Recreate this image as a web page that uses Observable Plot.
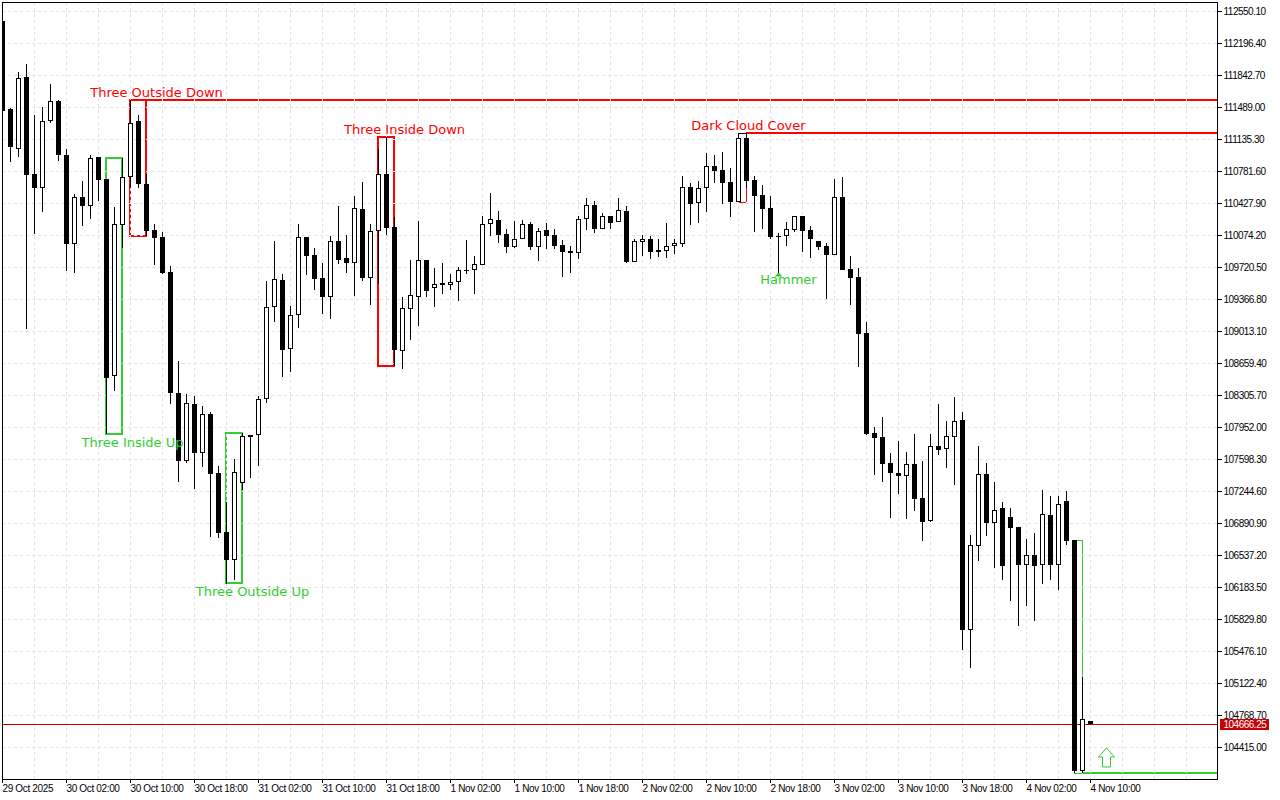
<!DOCTYPE html>
<html>
<head>
<meta charset="utf-8">
<script src="https://cdn.jsdelivr.net/npm/d3@7"></script>
<script src="https://cdn.jsdelivr.net/npm/@observablehq/plot@0.6"></script>
<style>
html,body{margin:0;padding:0;background:#fff}
svg{display:block}
g[aria-label="y-axis tick label"]{letter-spacing:-0.5px}
g[aria-label="x-axis tick label"]{letter-spacing:-0.35px}
</style>
</head>
<body>
<div id="chart"></div>
<script>
const opens=[112439,111467,111024,111821,110749,110594,111334,111556,110958,109975,110495,110395,110936,110694,108515,110185,110716,111334,110638,110130,110052,109666,108327,107576,108207,107665,108096,107443,106792,106482,107333,107864,107864,108262,109279,109577,108814,109190,110052,109853,109599,109389,110008,109820,109765,110362,109599,110119,110749,110163,108792,109256,109389,109798,109489,109544,109522,109555,109688,109688,109742,110196,110240,110085,109941,110030,110196,109941,110130,110074,109963,109897,109875,110251,110406,110141,110284,110218,110340,109776,109997,110030,109908,109897,109952,109975,110605,110428,110594,110837,110793,110660,110439,111146,110683,110517,110373,110063,110063,110130,110284,110130,110008,109952,109853,110495,109699,109610,108991,107886,107842,107554,107443,107410,107543,107168,106913,107742,107709,107842,108030,105708,106637,107432,106891,107057,106958,106847,106426,106537,106426,106980,106426,107134,106703,104150,104703];
const highs=[112439,111478,111876,111964,111401,111489,111744,111567,111024,110528,110671,110958,110936,110694,110384,110925,111567,111401,110749,110196,110108,109731,108681,108317,108295,108184,108118,107521,107123,107598,107886,107864,108295,109566,110008,109644,109290,110196,110052,109930,109765,110063,110395,110074,110506,110660,110196,111024,111157,110273,109389,109798,110229,109798,109710,109765,109644,109721,110019,109842,110284,110539,110340,110141,110229,110240,110218,110152,110207,110141,110019,109952,110284,110484,110450,110317,110284,110484,110395,110030,110074,110063,110030,110207,110030,110727,110649,110671,110980,110958,110991,110815,111202,111202,110727,110627,110506,110096,110218,110284,110284,110174,110008,109986,110694,110716,109842,109710,109113,107952,108063,107665,107797,107676,107875,107576,107875,108207,108019,108284,108118,106758,107742,107554,107344,107123,107057,106847,106714,106780,107256,107190,107190,107245,106703,105189,104703];
const lows=[111445,110881,110936,109035,110085,110329,111312,110892,109677,109655,110174,110251,110450,107875,108350,109930,110594,110594,110063,109742,109644,108207,107344,107554,107266,107510,106736,106725,106217,106261,107256,107388,107521,108218,109113,108504,108560,109047,109633,109467,109201,109146,109754,109655,109400,109566,109301,109533,110074,108626,108593,108914,109069,109389,109279,109423,109467,109345,109644,109423,109742,110063,109986,109875,109930,110030,109908,109787,109919,109919,109610,109655,109809,110130,110096,110141,110141,110218,109765,109776,109842,109809,109831,109820,109864,109941,110185,110207,110329,110649,110417,110273,110439,110594,110108,110141,110030,109655,109952,110108,109886,109820,109908,109367,109853,109688,109301,108615,107864,107421,107344,106947,107212,106936,107024,106692,106902,107643,107499,107311,105487,105288,106471,106747,106393,106261,106029,105753,105974,105808,106217,106261,106151,106648,104128,104128,104666.25];
const closes=[111445,111047,111810,110738,110594,111334,111556,110958,109975,110495,110395,110925,110683,108493,110196,110716,111312,110638,110119,110041,109655,108327,107576,108218,107665,108096,107432,106780,106482,107454,107853,107842,108262,109279,109588,108803,109190,110052,109842,109588,109389,110008,109798,109765,110373,109599,110119,110749,110152,108803,109268,109412,109798,109456,109533,109522,109555,109688,109677,109754,110196,110251,110074,109941,110030,110196,109941,110119,110063,109952,109886,109875,110251,110406,110141,110284,110207,110351,109776,110008,110030,109886,109886,109952,109986,110605,110417,110594,110837,110782,110649,110439,111146,110671,110506,110362,110052,110052,110141,110284,110119,110030,109941,109853,110495,109688,109599,108980,107875,107830,107543,107443,107410,107543,107157,106902,107742,107698,107853,108019,105708,106648,107432,106891,107035,106415,106836,106426,106537,106415,106991,106426,107101,106692,104150,104725,104666.25];

const tickLabels=["29 Oct 2025","30 Oct 02:00","30 Oct 10:00","30 Oct 18:00","31 Oct 02:00","31 Oct 10:00","31 Oct 18:00","1 Nov 02:00","1 Nov 10:00","1 Nov 18:00","2 Nov 02:00","2 Nov 10:00","2 Nov 18:00","3 Nov 02:00","3 Nov 10:00","3 Nov 18:00","4 Nov 02:00","4 Nov 10:00"];
const priceTicks=[112550.10,112196.40,111842.70,111489.00,111135.30,110781.60,110427.90,110074.20,109720.50,109366.80,109013.10,108659.40,108305.70,107952.00,107598.30,107244.60,106890.90,106537.20,106183.50,105829.80,105476.10,105122.40,104768.70,104415.00];
const lastPrice=104666.25;
const hoursPerLabel=8, hoursPerGrid=4, xEnd=151.875;

const RED="#ff0000", GREEN="#32cd32";
const patternBoxes=[
  {x1:13,x2:15,top:110925,bottom:107875,color:GREEN},
  {x1:47,x2:49,top:111157,bottom:108626,color:RED},
  {x1:16,x2:18,top:111567,bottom:110063,color:RED},
  {x1:28,x2:30,top:107886,bottom:106228,color:GREEN}
];
const thickH=[
  {p:111567,x1:16,x2:xEnd,color:RED},
  {p:111202,x1:93,x2:xEnd,color:RED},
  {p:104128,x1:135,x2:xEnd,color:GREEN}
];
const thinV=[
  {i:93,a:111202,b:110439,color:RED},
  {i:135,a:106703,b:104128,color:GREEN}
];
const thinH=[
  {p:111202,x1:92,x2:93,color:"#000"},
  {p:110439,x1:92,x2:93,color:RED},
  {p:106703,x1:134,x2:135,color:GREEN},
  {p:104128,x1:134,x2:135,color:GREEN}
];
const labels=[
  {t:"Three Outside Down",i:19.19,p:111655,color:RED},
  {t:"Three Inside Down",i:50.31,p:111246,color:RED},
  {t:"Dark Cloud Cover",i:93.19,p:111290,color:RED},
  {t:"Three Inside Up",i:16.19,p:107786,color:GREEN},
  {t:"Three Outside Up",i:31.31,p:106140,color:GREEN},
  {t:"Hammer",i:98.25,p:109588,color:GREEN}
];

const candles=opens.map((o,i)=>({i,o,h:highs[i],l:lows[i],c:closes[i]}));
const up=candles.filter(d=>d.c>d.o), down=candles.filter(d=>d.c<=d.o);
const bx1=d=>d.i-0.25, bx2=d=>d.i+0.375;

const hollowArrow={draw(ctx,size){
  const r=Math.sqrt(size/Math.PI);
  ctx.moveTo(0,-0.95*r);ctx.lineTo(0.8*r,-0.05*r);ctx.lineTo(0.4*r,-0.05*r);
  ctx.lineTo(0.4*r,0.95*r);ctx.lineTo(-0.4*r,0.95*r);ctx.lineTo(-0.4*r,-0.05*r);
  ctx.lineTo(-0.8*r,-0.05*r);ctx.closePath();
}};
const flatUp={draw(ctx,size){
  const r=Math.sqrt(size/Math.PI);
  ctx.moveTo(0,-0.5*r);ctx.lineTo(r,0.5*r);ctx.lineTo(-r,0.5*r);ctx.closePath();
}};

const gridDash="3,3";
const chart=Plot.plot({
  width:1280,height:800,
  marginLeft:2,marginRight:63,marginTop:2,marginBottom:21,
  style:{fontFamily:"'Liberation Sans',sans-serif",fontSize:"10px",color:"#000",background:"#fff",overflow:"visible"},
  x:{domain:[0,xEnd],round:true},
  y:{domain:[104061.3,112649.58],round:true},
  marks:[
    // pattern objects (behind grid and candles)
    Plot.rect(patternBoxes,{x1:"x1",x2:"x2",y1:"top",y2:"bottom",fill:"none",stroke:"color",strokeWidth:2}),
    Plot.ruleY(thickH,{y:"p",x1:"x1",x2:"x2",stroke:"color",strokeWidth:2,dy:-0.5}),
    Plot.ruleX(thinV,{x:"i",y1:"a",y2:"b",stroke:"color"}),
    Plot.ruleY(thinH,{y:"p",x1:"x1",x2:"x2",stroke:"color"}),
    // grid
    Plot.ruleX(d3.range(hoursPerGrid,xEnd,hoursPerGrid),{stroke:"#e3e3e3",strokeDasharray:gridDash}),
    Plot.ruleY(priceTicks,{stroke:"#e3e3e3",strokeDasharray:gridDash}),
    Plot.ruleY([lastPrice],{stroke:"#c80000"}),
    // candles
    Plot.ruleX(candles,{x:"i",y1:"l",y2:"h",stroke:"#000",clip:true}),
    Plot.rect(down,{x1:bx1,x2:bx2,y1:"o",y2:"c",fill:"#000",clip:true}),
    Plot.rect(up,{x1:bx1,x2:bx2,y1:"o",y2:"c",fill:"#000"}),
    Plot.rect(up,{x1:bx1,x2:bx2,y1:"o",y2:"c",fill:"#fff",inset:1}),
    // markers and labels
    Plot.dot([{i:97,p:109644}],{x:"i",y:"p",r:4,symbol:flatUp,fill:GREEN,stroke:"none"}),
    Plot.dot([{i:138,p:104304}],{x:"i",y:"p",r:10,symbol:hollowArrow,fill:"#fff",stroke:GREEN,strokeWidth:1}),
    Plot.text(labels,{x:"i",y:"p",text:"t",fill:"color",fontFamily:"'DejaVu Sans',sans-serif",fontSize:13}),
    // axes
    Plot.frame({stroke:"#000"}),
    Plot.axisY({anchor:"right",ticks:priceTicks,tickSize:4,tickPadding:2,tickFormat:d3.format(".2f"),label:null,stroke:"#000",fill:"#000"}),
    Plot.axisX({anchor:"bottom",ticks:tickLabels.map((_,k)=>k*hoursPerLabel),tickSize:4,tickPadding:1,tickFormat:v=>tickLabels[v/hoursPerLabel],textAnchor:"start",label:null,stroke:"#000",fill:"#000"}),
    // last price tag
    Plot.rect([{x1:152.25,x2:158.375,y1:104725,y2:104603}],{x1:"x1",x2:"x2",y1:"y1",y2:"y2",fill:"#c80000"}),
    Plot.text([lastPrice],{x:152.625,y:d=>d,text:d=>d3.format(".2f")(d),fill:"#fff",textAnchor:"start"})
  ]
});
const textLayers=chart.querySelectorAll('g[aria-label="text"]');
textLayers[textLayers.length-1].style.letterSpacing="-0.5px";
document.getElementById("chart").appendChild(chart);
</script>
</body>
</html>
